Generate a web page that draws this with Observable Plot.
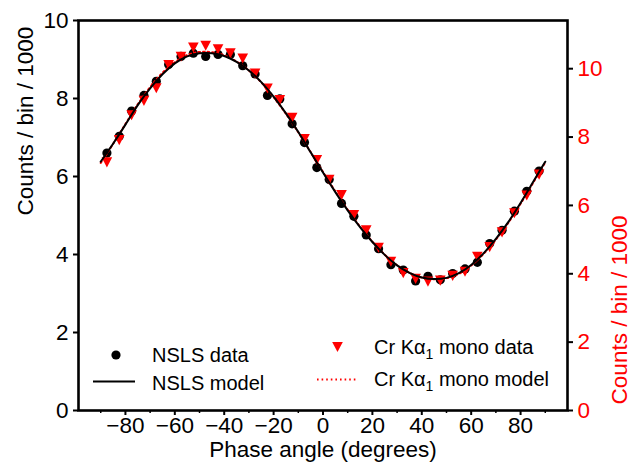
<!DOCTYPE html>
<html><head><meta charset="utf-8">
<script src="https://cdn.jsdelivr.net/npm/d3@7"></script>
<script src="https://cdn.jsdelivr.net/npm/@observablehq/plot@0.6"></script>
<style>
body{margin:0;background:#fff;}
#chart{width:635px;height:468px;}
</style></head><body><div id="chart"></div>
<script>
// Phase angle of each bin (degrees)
const angles = [-87.5,-82.5,-77.5,-72.5,-67.5,-62.5,-57.5,-52.5,-47.5,-42.5,-37.5,-32.5,-27.5,-22.5,-17.5,-12.5,-7.5,-2.5,
                2.5,7.5,12.5,17.5,22.5,27.5,32.5,37.5,42.5,47.5,52.5,57.5,62.5,67.5,72.5,77.5,82.5,87.5];
// NSLS data (left axis, counts / bin / 1000)
const nslsData = [6.60,7.03,7.68,8.08,8.44,8.87,9.08,9.16,9.08,9.13,9.13,8.84,8.63,8.08,7.99,7.35,6.87,6.23,
                  5.92,5.31,4.98,4.50,4.15,3.74,3.60,3.32,3.44,3.35,3.51,3.63,3.80,4.28,4.62,5.11,5.62,6.14];
// Cr Kα1 mono data (right axis, counts / bin / 1000)
const crData = [7.26,7.91,8.64,9.06,9.43,10.11,10.35,10.62,10.67,10.57,10.45,10.30,9.86,9.42,9.08,8.56,7.94,7.33,
                6.75,6.30,5.72,5.27,4.76,4.35,4.02,3.85,3.77,3.80,3.94,4.06,4.50,4.78,5.21,5.77,6.29,6.90];
// Model curves, sampled at these angles
const modelAngles = [-90,-85,-80,-75,-70,-65,-60,-55,-50,-45,-40,-35,-30,-25,-20,-15,-10,-5,0,
                     5,10,15,20,25,30,35,40,45,50,55,60,65,70,75,80,85,90];
const nslsModel = [6.38,6.84,7.33,7.83,8.26,8.62,8.90,9.08,9.16,9.16,9.09,8.94,8.72,8.42,8.05,7.62,7.14,6.62,6.10,
                   5.60,5.13,4.70,4.32,3.99,3.72,3.53,3.41,3.37,3.40,3.52,3.73,4.03,4.40,4.83,5.32,5.85,6.38];
const crModel = [7.24,7.80,8.38,8.96,9.46,9.88,10.19,10.40,10.49,10.48,10.39,10.21,9.95,9.60,9.17,8.68,8.14,7.56,6.98,
                 6.41,5.87,5.38,4.94,4.56,4.25,4.03,3.89,3.84,3.87,4.00,4.24,4.58,5.00,5.49,6.05,6.65,7.26];
// Ticks
const xTicks = [-80,-60,-40,-20,0,20,40,60,80];
const xMinorTicks = [-90,-70,-50,-30,-10,10,30,50,70,90];
const yLeftTicks = [0,2,4,6,8,10];
const yRightTicks = [0,2,4,6,8,10];
const leftMax = 10;
const rightMax = 11.41;

// right-axis values mapped into left-axis units
const k = leftMax / rightMax;
const nslsPts = angles.map((a, i) => ({angle: a, value: nslsData[i]}));
const crPts = angles.map((a, i) => ({angle: a, value: crData[i]}));
const nslsLine = modelAngles.map((a, i) => ({angle: a, value: nslsModel[i]}));
const crLine = modelAngles.map((a, i) => ({angle: a, value: crModel[i]}));

const triangleDown = {
  draw(ctx, size) {
    const w = Math.sqrt(size) * 1.25, h = w * 0.95;
    ctx.moveTo(-w / 2, -h / 2);
    ctx.lineTo(w / 2, -h / 2);
    ctx.lineTo(0, h / 2);
    ctx.closePath();
  }
};

const FONT = "'Liberation Sans', Arial, Helvetica, sans-serif";

const plot = Plot.plot({
  width: 635, height: 468,
  marginLeft: 78, marginRight: 68, marginTop: 20, marginBottom: 58,
  style: {fontFamily: FONT, fontSize: "22.5px", background: "white", color: "black", overflow: "visible"},
  x: {domain: [-99, 99]},
  y: {domain: [0, leftMax]},
  marks: [
    Plot.dot(nslsPts, {x: "angle", y: "value", r: 4.6, fill: "black", stroke: "none"}),
    Plot.dot(crPts, {x: "angle", y: d => d.value * k, r: 4.8, symbol: triangleDown, fill: "#ff0000", stroke: "none"}),
    Plot.line(crLine, {x: "angle", y: d => d.value * k, stroke: "#ff0000", strokeWidth: 2, strokeDasharray: "1.6,3", curve: "natural"}),
    Plot.line(nslsLine, {x: "angle", y: "value", stroke: "black", strokeWidth: 2, curve: "natural"}),
    Plot.axisX(xTicks, {anchor: "bottom", tickSize: 5, tickPadding: 2, strokeWidth: 2, label: null}),
    Plot.axisX(xMinorTicks, {anchor: "bottom", tickSize: 3, strokeWidth: 1.5, tickFormat: () => "", label: null}),
    Plot.axisY(yLeftTicks, {anchor: "left", tickSize: 5, tickPadding: 5, strokeWidth: 2, label: null}),
    Plot.axisY(yRightTicks, {anchor: "right", y: d => d * k, tickSize: 5, tickPadding: 5, strokeWidth: 2,
                             stroke: "black", fill: "#ff0000", tickFormat: d => String(d), label: null}),
    Plot.text(["Counts / bin / 1000"], {text: d => d, frameAnchor: "left", dx: -53, rotate: -90, fill: "black"}),
    Plot.text(["Counts / bin / 1000"], {text: d => d, frameAnchor: "right", dx: 52, rotate: -90, fill: "#ff0000"}),
    Plot.text(["Phase angle (degrees)"], {text: d => d, frameAnchor: "bottom", dy: 46, fill: "black"}),
    Plot.frame({stroke: "black", strokeWidth: 2.6})
  ]
});

// Legend
const svg = d3.select(plot);
const lg = svg.append("g").attr("font-family", FONT).attr("font-size", 20).attr("fill", "black")
  .attr("text-anchor", "start").style("text-anchor", "start");
lg.append("circle").attr("cx", 116).attr("cy", 355).attr("r", 4.6).attr("fill", "black");
lg.append("text").attr("x", 152).attr("y", 361.5).text("NSLS data");
lg.append("line").attr("x1", 93).attr("x2", 135).attr("y1", 381.5).attr("y2", 381.5)
  .attr("stroke", "black").attr("stroke-width", 2);
lg.append("text").attr("x", 152).attr("y", 389.5).text("NSLS model");
lg.append("path").attr("transform", "translate(337.5,347)")
  .attr("d", d3.symbol(triangleDown, 4.8 * 4.8 * Math.PI)()).attr("fill", "#ff0000");
lg.append("line").attr("x1", 317).attr("x2", 357).attr("y1", 379.5).attr("y2", 379.5)
  .attr("stroke", "#ff0000").attr("stroke-width", 2).attr("stroke-dasharray", "1.6,3");
function crLabel(y, word) {
  const t = lg.append("text").attr("x", 374).attr("y", y);
  t.append("tspan").text("Cr Kα");
  t.append("tspan").attr("font-size", 14).attr("dy", 5).text("1");
  t.append("tspan").attr("dy", -5).text(" mono " + word);
}
crLabel(353.5, "data");
crLabel(386, "model");

document.getElementById("chart").appendChild(plot);
</script>
</body></html>
